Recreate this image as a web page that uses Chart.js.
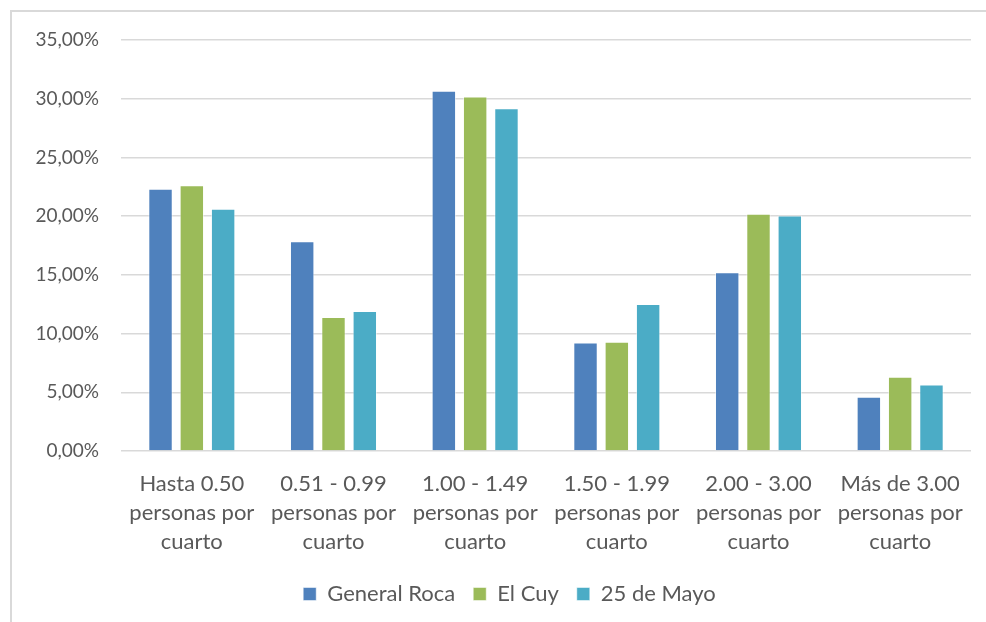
<!DOCTYPE html>
<html>
<head>
<meta charset="utf-8">
<script src="https://cdn.jsdelivr.net/npm/chart.js@4.4.1/dist/chart.umd.min.js"></script>
<style>
  html, body { margin: 0; padding: 0; background: #fff; overflow: hidden; }
  #wrap { position: relative; width: 986px; height: 622px; }
  #frame {
    position: absolute; left: 10px; top: 10px; width: 1000px; height: 700px;
    border: 2px solid #d9d9d9; box-sizing: border-box;
  }
  canvas { position: absolute; left: 0; top: 0; }
</style>
</head>
<body>
<div id="wrap">
  <div id="frame"></div>
  <canvas id="chart" width="986" height="622"></canvas>
</div>
<script>
const categories = [
  ["Hasta 0.50", "personas por", "cuarto"],
  ["0.51 - 0.99", "personas por", "cuarto"],
  ["1.00 - 1.49", "personas por", "cuarto"],
  ["1.50 - 1.99", "personas por", "cuarto"],
  ["2.00 - 3.00", "personas por", "cuarto"],
  ["Más de 3.00", "personas por", "cuarto"],
];
const generalRoca = [22.34, 17.87, 30.67, 9.25, 15.22, 4.61];
const elCuy = [22.63, 11.41, 30.19, 9.3, 20.2, 6.32];
const veinticincoMayo = [20.63, 11.92, 29.19, 12.52, 20.06, 5.66];
const seriesNames = ["General Roca", "El Cuy", "25 de Mayo"];
const colors = ["#4f81bd", "#9bbb59", "#4bacc6"];

const textColor = "#595959";
const fontFamily = "Lato, 'Open Sans', sans-serif";

const makeSet = (i, data) => ({
  label: seriesNames[i],
  data: data,
  backgroundColor: colors[i],
  borderColor: "rgba(255,255,255,0.5)",
  borderWidth: 1,
  categoryPercentage: 0.663,
  barPercentage: 0.78,
});

// the legend in the original is centred under the plot, not the canvas
const shiftLegend = {
  id: "shiftLegend",
  afterLayout(chart) {
    chart.legend.left += 24;
    chart.legend.right += 24;
  },
};

new Chart(document.getElementById("chart"), {
  type: "bar",
  data: {
    labels: categories,
    datasets: [
      makeSet(0, generalRoca),
      makeSet(1, elCuy),
      makeSet(2, veinticincoMayo),
    ],
  },
  plugins: [shiftLegend],
  options: {
    responsive: false,
    animation: false,
    layout: { padding: { top: 40, right: 15, left: 0, bottom: 7 } },
    plugins: {
      tooltip: { enabled: false },
      legend: {
        position: "bottom",
        labels: {
          color: textColor,
          font: { family: fontFamily, size: 22 },
          boxWidth: 13,
          boxHeight: 13,
          padding: 18,
        },
      },
    },
    scales: {
      x: {
        grid: { display: false, drawTicks: false },
        border: { display: false },
        ticks: {
          color: textColor,
          font: { family: fontFamily, size: 22, lineHeight: 1.3 },
          padding: 19,
          maxRotation: 0,
          autoSkip: false,
        },
        afterFit: (scale) => { scale.height = 114; },
      },
      y: {
        min: 0,
        max: 35,
        grid: { color: "#d9d9d9", lineWidth: 1.5, drawTicks: false },
        border: { display: false },
        ticks: {
          stepSize: 5,
          color: textColor,
          font: { family: fontFamily, size: 19 },
          padding: 22,
          callback: (v) => v.toFixed(2).replace(".", ",") + "%",
        },
        afterFit: (scale) => { scale.width = 121; },
      },
    },
  },
});
</script>
</body>
</html>
